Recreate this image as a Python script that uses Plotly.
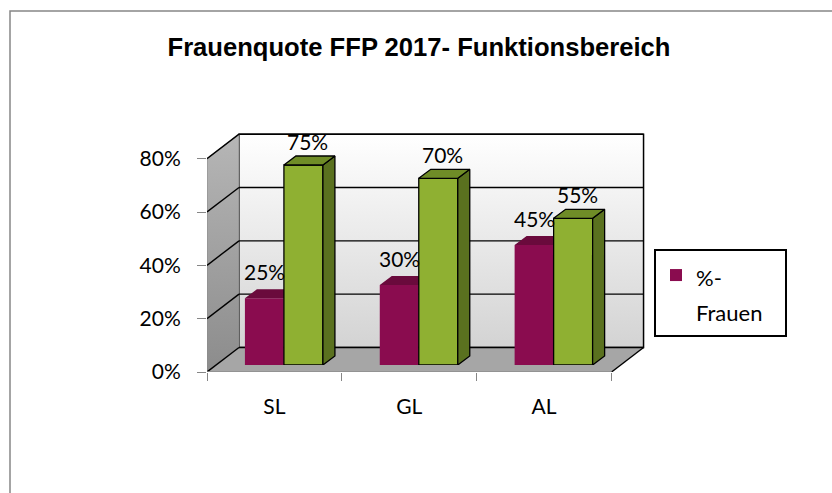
import plotly.graph_objects as go

# ---------------- data ----------------
CATEGORIES = ["SL", "GL", "AL"]
FRAUEN = [0.25, 0.30, 0.45]
MAENNER = [0.75, 0.70, 0.55]
Y_TICKS = [0.0, 0.2, 0.4, 0.6, 0.8]
Y_TICK_LABELS = ["0%", "20%", "40%", "60%", "80%"]
SERIES_NAME = "<span style='font-size:22px'>%-</span><br><span style='font-size:22px'>Frauen&nbsp;&nbsp;&nbsp;</span>"
TITLE = "Frauenquote FFP 2017- Funktionsbereich"

# ---------------- geometry / style ----------------
W, H = 832, 493
PL, PR, PB, PT = 207, 652, 372, 132   # plot area edges in page px
ML, MT = PL, PT
MR, MB = W - PR, H - PB
PW = PR - PL
PH = PB - PT
XR = 3.3
YR = 0.9
PXX = PW / XR
PXY = PH / YR
N = len(CATEGORIES)
YMAX = Y_TICKS[-1]

DX = 32 / PXX          # depth of the 3D box
DY = 24.5 / PXY
OX_PX, OY_PX = 9.5, 7  # bars plane offset (px)
BDX = 12 / PXX         # bar depth
BDY = 9 / PXY
BW = 39 / PXX          # bar width

FONT = "Lato, 'Open Sans', sans-serif"
RED, RED_TOP = "#8a0c4f", "#6a0a3c"
GRN, GRN_TOP, GRN_SIDE = "#8fb032", "#6f8c27", "#5a711f"

fig = go.Figure()

# ---------- box: back wall, left wall, floor ----------
fig.add_trace(go.Scatter(
    x=[DX, N + DX, N + DX, DX, DX], y=[DY, DY, YMAX + DY, YMAX + DY, DY],
    mode="lines", fill="toself",
    fillgradient=dict(type="vertical", colorscale=[[0, "#d3d3d3"], [1, "#ffffff"]]),
    line=dict(color="black", width=1.5), hoverinfo="skip", showlegend=False))
fig.add_trace(go.Scatter(
    x=[0, DX, DX, 0, 0], y=[0, DY, YMAX + DY, YMAX, 0],
    mode="lines", fill="toself",
    fillgradient=dict(type="vertical", colorscale=[[0, "#8c8c8c"], [1, "#b6b6b6"]]),
    line=dict(color="#8a8a8a", width=1), hoverinfo="skip", showlegend=False))
fig.add_trace(go.Scatter(
    x=[0, N, N + DX, DX, 0], y=[0, 0, DY, DY, 0],
    mode="none", fill="toself", fillcolor="#a6a6a6",
    hoverinfo="skip", showlegend=False))

# grid lines (back wall + left wall diagonals) and floor right edge
gx, gy = [], []
for v in Y_TICKS:
    gx += [DX, N + DX, None, 0, DX, None]
    gy += [v + DY, v + DY, None, v, v + DY, None]
gx += [N, N + DX, None]
gy += [0, DY, None]
fig.add_trace(go.Scatter(x=gx, y=gy, mode="lines", line=dict(color="black", width=1.4),
                         hoverinfo="skip", showlegend=False))
fig.add_trace(go.Scatter(x=[0, N], y=[0, 0], mode="lines", line=dict(color="#8c8c8c", width=1.5),
                         hoverinfo="skip", showlegend=False))


def faces(centers, values, top=True):
    xs, ys = [], []
    for c, v in zip(centers, values):
        x0, x1 = c - BW / 2, c + BW / 2
        if top:
            xs += [x0, x1, x1 + BDX, x0 + BDX, x0, None]
            ys += [v, v, v + BDY, v + BDY, v, None]
        else:
            xs += [x1, x1, x1 + BDX, x1 + BDX, x1, None]
            ys += [0, v, v + BDY, BDY, 0, None]
    return xs, ys


red_x = [i + 0.5 - BW / 2 for i in range(N)]
grn_x = [i + 0.5 + BW / 2 for i in range(N)]

# ---------- red series (subplot 2) ----------
fig.add_trace(go.Bar(x=red_x, y=FRAUEN, width=BW, name=SERIES_NAME,
                     marker=dict(color=RED, line=dict(width=0)),
                     xaxis="x2", yaxis="y2", showlegend=True))
tx, ty = faces(red_x, FRAUEN, top=True)
fig.add_trace(go.Scatter(x=tx, y=ty, mode="none", fill="toself", fillcolor=RED_TOP,
                         xaxis="x2", yaxis="y2", hoverinfo="skip", showlegend=False))

# ---------- green series (subplot 3) ----------
fig.add_trace(go.Bar(x=grn_x, y=MAENNER, width=BW, name="%-Männer",
                     marker=dict(color=GRN, line=dict(width=1.3, color="black")),
                     xaxis="x3", yaxis="y3", showlegend=False))
sx, sy = faces(grn_x, MAENNER, top=False)
fig.add_trace(go.Scatter(x=sx, y=sy, mode="lines", fill="toself", fillcolor=GRN_SIDE,
                         line=dict(color="black", width=1.3),
                         xaxis="x3", yaxis="y3", hoverinfo="skip", showlegend=False))
tx, ty = faces(grn_x, MAENNER, top=True)
fig.add_trace(go.Scatter(x=tx, y=ty, mode="lines", fill="toself", fillcolor=GRN_TOP,
                         line=dict(color="black", width=1.3),
                         xaxis="x3", yaxis="y3", hoverinfo="skip", showlegend=False))

# ---------- data labels ----------
ann = []
for c, v in zip(red_x, FRAUEN):
    ann.append(dict(x=c, y=v, xref="x2", yref="y2", text=f"{round(v * 100)}%",
                    showarrow=False, yshift=27, font=dict(family=FONT, size=21, color="black")))
for c, v in zip(grn_x, MAENNER):
    ann.append(dict(x=c + BDX / 3, y=v, xref="x3", yref="y3", text=f"{round(v * 100)}%",
                    showarrow=False, yshift=24, font=dict(family=FONT, size=21, color="black")))

sub_x = dict(domain=[OX_PX / PW, 1], range=[0, XR - OX_PX / PXX], visible=False)
sub_y = dict(domain=[OY_PX / PH, 1], range=[0, YR - OY_PX / PXY], visible=False)

# outer frame: only left and top edges are visible in the picture
fx0 = (10 - PL) / PW
fx1 = (W + 5 - PL) / PW
fy_top = (PB - 11) / PH
fy_bot = (PB - (H + 5)) / PH
frame_path = f"M {fx0},{fy_bot} L {fx0},{fy_top} L {fx1},{fy_top}"

fig.update_layout(
    width=W, height=H,
    margin=dict(l=ML, r=MR, t=MT, b=MB, autoexpand=False),
    paper_bgcolor="white", plot_bgcolor="rgba(0,0,0,0)",
    title=dict(text=TITLE, x=419 / W, xref="container", xanchor="center",
               y=1 - 47 / H, yref="container", yanchor="middle",
               font=dict(family="'Liberation Sans', Arial, sans-serif", size=25.6,
                         color="black", weight="bold")),
    xaxis=dict(domain=[0, 1], range=[0, XR], tickmode="array",
               tickvals=[i + 0.5 for i in range(N)], ticktext=CATEGORIES,
               ticks="", showgrid=False, zeroline=False, showline=False,
               ticklabelstandoff=20,
               tickfont=dict(family=FONT, size=21, color="black"),
               minor=dict(tickmode="array", tickvals=list(range(N + 1)), ticks="outside",
                          ticklen=8, tickcolor="#868686", tickwidth=1, showgrid=False)),
    yaxis=dict(domain=[0, 1], range=[0, YR], tickmode="array",
               tickvals=Y_TICKS, ticktext=Y_TICK_LABELS,
               ticks="outside", ticklen=9, tickcolor="#868686", tickwidth=1,
               showgrid=False, zeroline=False, showline=False, ticklabelstandoff=12,
               tickfont=dict(family=FONT, size=21, color="black")),
    xaxis2=dict(sub_x, anchor="y2"), yaxis2=dict(sub_y, anchor="x2"),
    xaxis3=dict(sub_x, anchor="y3"), yaxis3=dict(sub_y, anchor="x3"),
    barmode="overlay",
    showlegend=True,
    legend=dict(x=(654 - PL) / PW, y=(PB - 249) / PH, xanchor="left", yanchor="top",
                bordercolor="black", borderwidth=2, bgcolor="white", valign="top",
                font=dict(family=FONT, size=27, color="black")),
    annotations=ann,
    shapes=[dict(type="path", xref="paper", yref="paper", path=frame_path,
                 line=dict(color="#868686", width=1.5), layer="below")],
)

fig.write_html("out.html",
               config={"displayModeBar": False},
               post_script="document.body.style.margin='0';document.body.style.overflow='hidden';")
